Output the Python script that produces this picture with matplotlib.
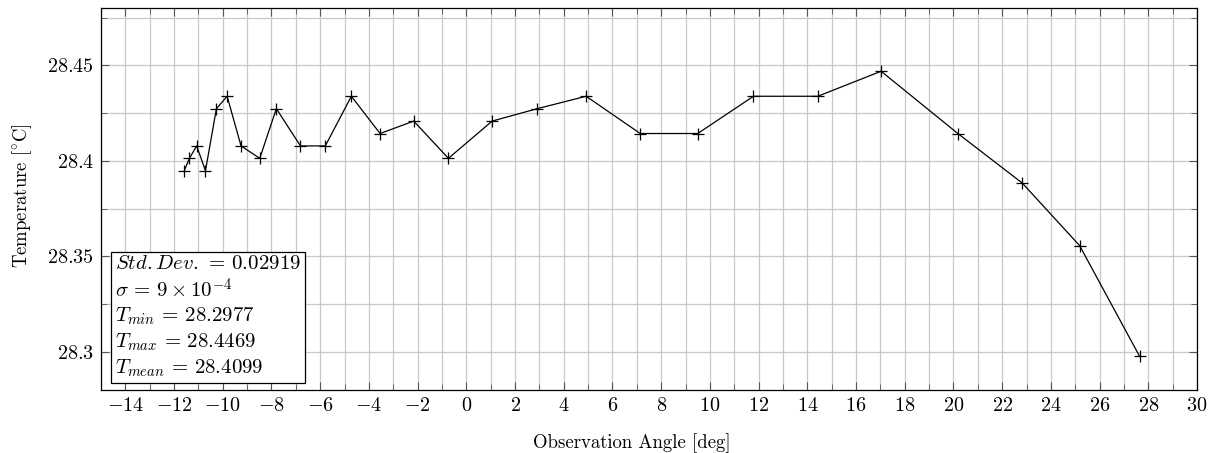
import matplotlib
matplotlib.use("Agg")
import matplotlib.pyplot as plt
from matplotlib.ticker import MultipleLocator

plt.rcParams['font.family'] = ['cmr10', 'DejaVu Serif']
plt.rcParams['mathtext.fontset'] = 'cm'
plt.rcParams['axes.formatter.use_mathtext'] = True

angles = [-11.58, -11.37, -11.07, -10.71, -10.26, -9.82, -9.25, -8.48, -7.80,
          -6.81, -5.79, -4.72, -3.54, -2.16, -0.735, 1.06, 2.91, 4.92, 7.14,
          9.50, 11.79, 14.43, 17.03, 20.18, 22.83, 25.18, 27.64]
temps = [28.3948, 28.4013, 28.4078, 28.3948, 28.4273, 28.4338, 28.4078, 28.4013,
         28.4273, 28.4078, 28.4078, 28.4338, 28.4143, 28.4208, 28.4013, 28.4208,
         28.4273, 28.4338, 28.4143, 28.4143, 28.4338, 28.4338, 28.4469, 28.4143,
         28.3883, 28.3556, 28.2977]
xtick_vals = list(range(-14, 31, 2))
ytick_vals = [28.3, 28.35, 28.4, 28.45]

stats_text = "\n".join([
    r"$Std{.}Dev{.}\,=\,0.02919$",
    r"$\sigma\,=\,9\times10^{-4}$",
    r"$T_{min}\,=\,28.2977$",
    r"$T_{max}\,=\,28.4469$",
    r"$T_{mean}\,=\,28.4099$",
])

fig = plt.figure(figsize=(12.15, 4.53), dpi=100)
ax = fig.add_axes([0.0831, 0.139, 0.9021, 0.8433])

ax.plot(angles, temps, color='black', linewidth=0.9, marker='+',
        markersize=8, markeredgewidth=0.9, zorder=3)

ax.set_xlim(-15, 30)
ax.set_ylim(28.28, 28.48)
ax.xaxis.set_minor_locator(MultipleLocator(1))
ax.yaxis.set_minor_locator(MultipleLocator(0.025))

ax.set_xticks(xtick_vals)
ax.set_xticklabels([f"${t}$" if t >= 0 else f"$-{abs(t)}$" for t in xtick_vals])
ax.set_yticks(ytick_vals)
ax.set_yticklabels([f"${v:g}$" for v in ytick_vals])

ax.grid(True, which='both', color='#c8c8c8', linewidth=0.9, zorder=0)
ax.set_axisbelow(True)
ax.tick_params(which='both', direction='in', top=True, right=True,
               labelsize=14.5, color='#555555')
ax.tick_params(which='major', length=6, pad=5)
ax.tick_params(which='minor', length=4)
for s in ax.spines.values():
    s.set_linewidth(0.9)

ax.set_xlabel("Observation Angle [deg]", fontsize=13.5)
ax.set_ylabel(r"Temperature [$^{\circ}\mathrm{C}$]", fontsize=13.5)
ax.xaxis.set_label_coords(0.4845, -0.112)
ax.yaxis.set_label_coords(-0.061, 0.51)

ax.text(0.0125, 0.03, stats_text, transform=ax.transAxes, fontsize=15,
        va='bottom', ha='left', linespacing=1.25, zorder=5,
        bbox=dict(boxstyle='square,pad=0.2', facecolor='white',
                  edgecolor='black', linewidth=0.9))

fig.savefig("out.png", dpi=100)
